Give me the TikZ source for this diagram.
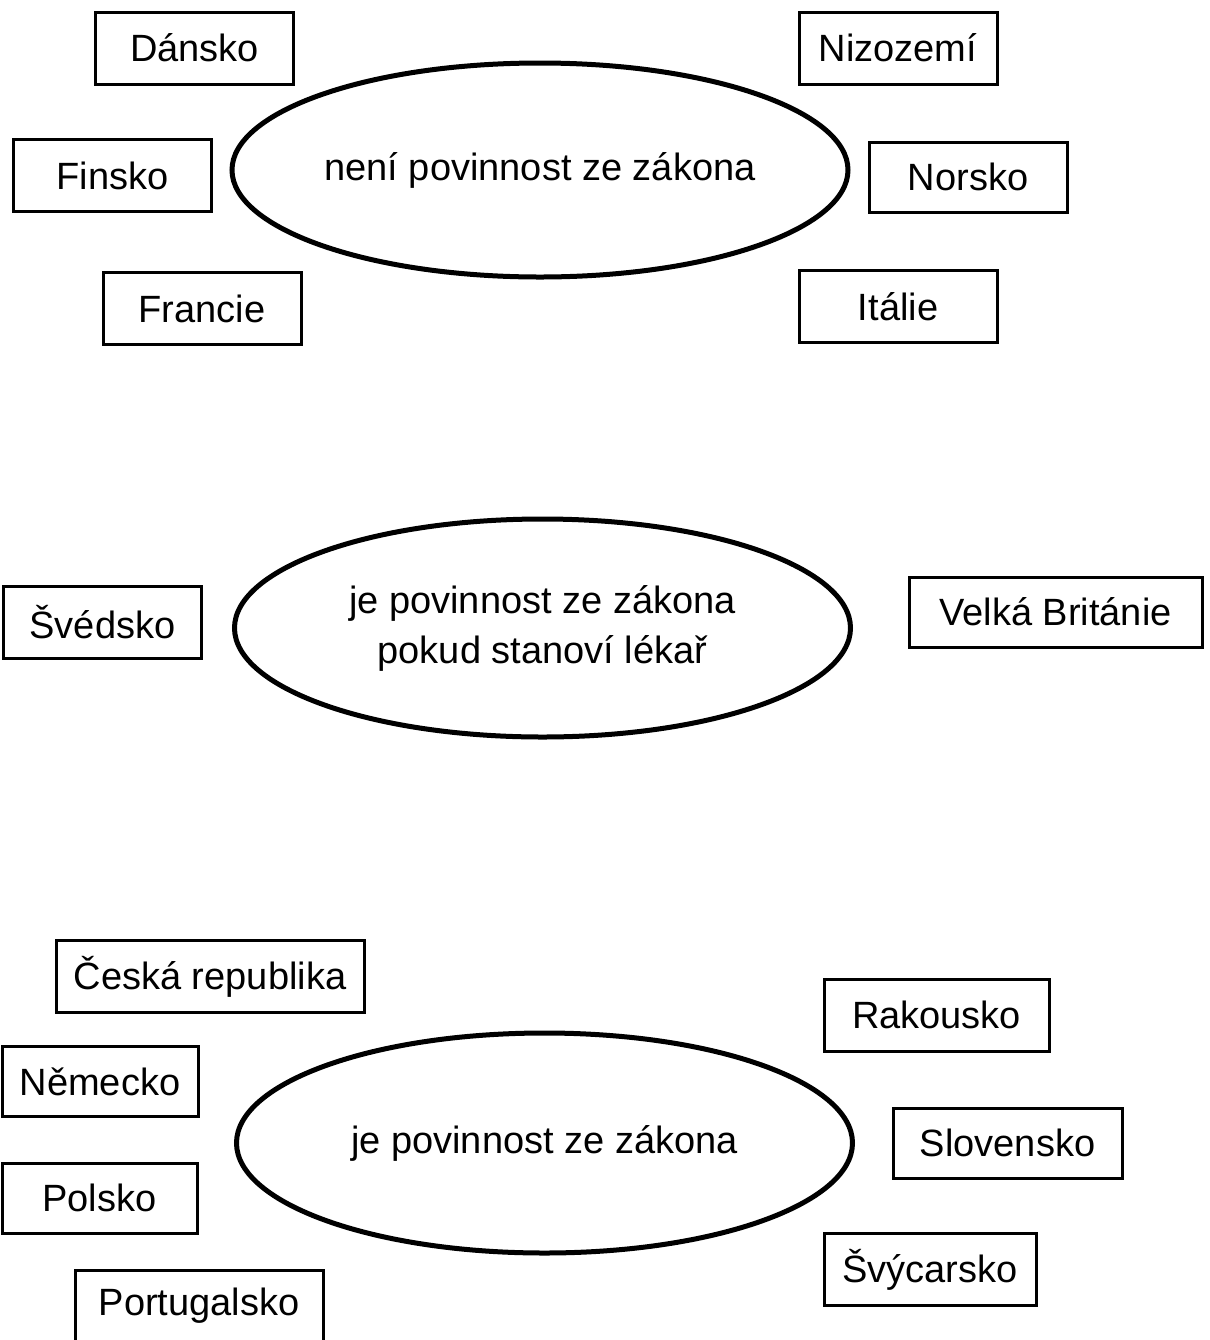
\documentclass[tikz,border=0pt]{standalone}
\usepackage{fontspec}
\setmainfont{Liberation Sans}
\usetikzlibrary{shapes.geometric, positioning}
\tikzset{
  %% Country box
  cbox/.style={
    rectangle, draw=black, fill=white,
    line width=1.5pt, inner sep=0pt,
    minimum width=#1, minimum height=36pt,
    text centered
  },
  cbox/.default=99pt,
  %% Group ellipse
  oval/.style={
    ellipse, draw=black, line width=2.5pt, inner sep=0pt,
    minimum width=308pt, minimum height=#1,
    align=center
  },
  oval/.default=107pt,
}
\begin{document}
\begin{tikzpicture}[x=0.5pt, y=-0.5pt,
                    every node/.style={font=\fontsize{19}{25}\selectfont}]
  \useasboundingbox (0,0) rectangle (1210,1340);

  %% Group 1
  \node[oval] (el1) at (540,170) {není povinnost ze zákona};
  \node[cbox] (dan) at (194.5,48) {Dánsko};
  \node[cbox] (fin) at (112.5,175.5) {Finsko};
  \node[cbox] (fra) at (202,308.5) {Francie};
  \node[cbox] (niz) at (898,48) {Nizozemí};
  \node[cbox, minimum height=35pt] (nor) at (968,177) {Norsko};
  \node[cbox] (ita) at (898,306.5) {Itálie};

  %% Group 2
  \node[oval=109pt] (el2) at (542.5,628)
        {je povinnost ze zákona\\pokud stanoví lékař};
  \node[cbox] (sve) at (102.5,622.5) {Švédsko};
  \node[cbox=146.5pt, minimum height=35pt] (vbr) at (1055.5,612) {Velká Británie};

  %% Group 3
  \node[oval=110pt] (el3) at (544.5,1143) {je povinnost ze zákona};
  \node[cbox=154pt] (cze) at (210,976.5) {Česká republika};
  \node[cbox=98pt, minimum height=35pt] (nem) at (100,1081.5) {Německo};
  \node[cbox=97.5pt, minimum height=35pt] (pol) at (99.5,1198) {Polsko};
  \node[cbox=124pt] (por) at (199,1306) {Portugalsko};
  \node[cbox=112.5pt] (rak) at (936.5,1015) {Rakousko};
  \node[cbox=114.5pt, minimum height=35pt] (slo) at (1007.5,1143) {Slovensko};
  \node[cbox=106pt] (svy) at (930,1269.5) {Švýcarsko};

\end{tikzpicture}
\end{document}
